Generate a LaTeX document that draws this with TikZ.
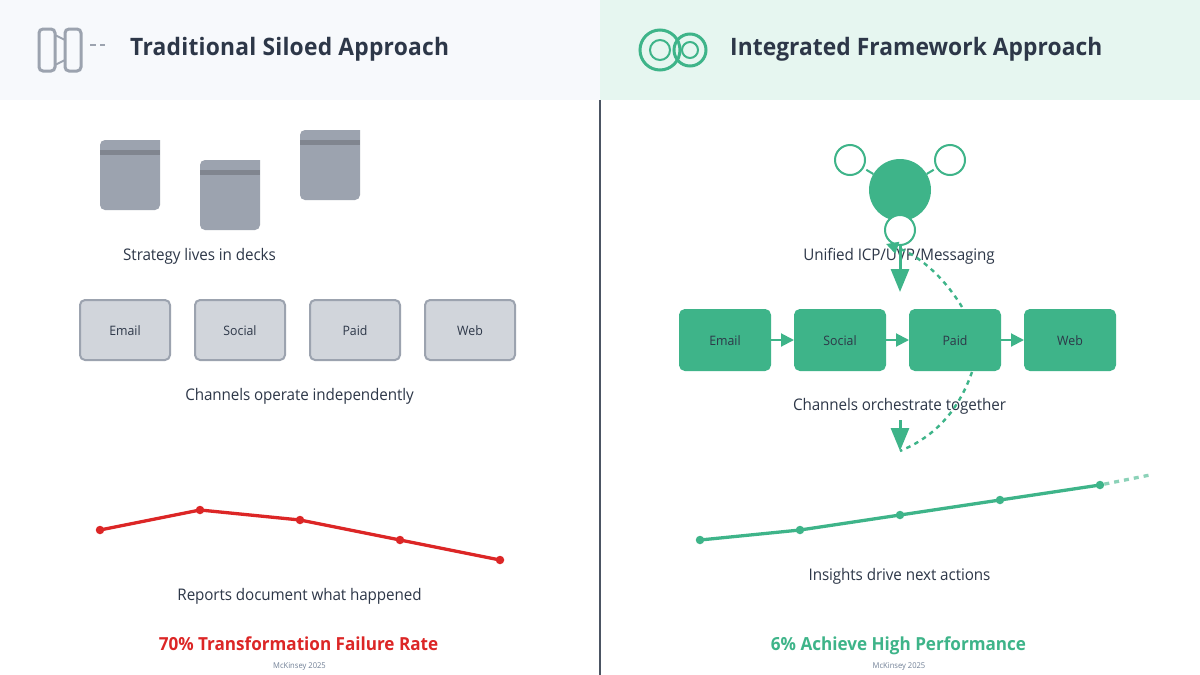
\documentclass[tikz,border=0pt]{standalone}
\usepackage{fontspec}
\setmainfont[FakeStretch=0.95]{Open Sans}
\usetikzlibrary{arrows.meta}
\definecolor{ink}{HTML}{2D3748}
\definecolor{mint}{HTML}{3EB489}
\definecolor{slate}{HTML}{9CA3AF}
\definecolor{band}{HTML}{80858F}
\definecolor{siloed}{HTML}{D1D5DB}
\definecolor{alarm}{HTML}{DC2626}
\definecolor{credit}{HTML}{718096}
\definecolor{headleft}{HTML}{F7F9FC}
\definecolor{headright}{HTML}{E6F6F0}

\begin{document}
\begin{tikzpicture}[x=1pt,y=-1pt,
  title/.style={text=ink,font=\fontsize{24}{28}\selectfont\bfseries\addfontfeature{LetterSpace=#1},anchor=base west,inner sep=0pt},
  caption/.style={text=ink,font=\fontsize{16}{20}\selectfont\addfontfeature{LetterSpace=-0.6},anchor=base,inner sep=0pt},
  verdict/.style={font=\fontsize{18}{22}\selectfont\bfseries,anchor=base,inner sep=0pt},
  credit/.style={text=credit,font=\fontsize{8}{10}\selectfont,anchor=base,inner sep=0pt},
  channel/.style={rectangle,rounded corners=5pt,minimum width=90pt,minimum height=60pt,
    inner sep=0pt,text height=11pt,text depth=0pt,text=ink,font=\fontsize{13}{18}\selectfont},
  silo/.style={channel,draw=slate,line width=2pt,fill=siloed},
  unit/.style={channel,draw=mint,line width=2pt,fill=mint},
  sat/.style={circle,draw=mint,line width=2pt,fill=white,minimum size=30pt,inner sep=0pt},
  dot/.style={circle,minimum size=8.5pt,inner sep=0pt},
  flow/.style={color=mint,line width=2pt,-{Triangle[length=13pt,width=13pt]}},
  bigflow/.style={color=mint,line width=3pt,-{Triangle[length=23pt,width=18pt]}},
  loopback/.style={color=mint,line width=2.4pt,dash pattern=on 4.5pt off 4.5pt}]

\useasboundingbox (0,0) rectangle (1200,675);
\fill[color=white] (0,0) rectangle (1200,675);
\fill[color=headleft] (0,0) rectangle (600,100);
\fill[color=headright] (600,0) rectangle (1200,100);
\draw[color=ink!85!white,line width=2pt] (600,100) -- (600,675);

% left header icon
\draw[slate,line width=3pt,rounded corners=4pt] (39,29) rectangle (55,71);
\draw[slate,line width=3pt,rounded corners=4pt] (65,29) rectangle (81,71);
\draw[slate,line width=2pt] (55,35) -- (65,40) (55,65) -- (65,60);
\draw[slate,line width=1.5pt] (90,45) -- (96,45) (100,45) -- (105,45);
\node[title=1] (T_left) at (130,55) {Traditional Siloed Approach};

% right header icon
\draw[mint,line width=3pt] (660,50) circle (20);
\draw[mint,line width=2pt] (660,50) circle (10);
\draw[mint,line width=3pt] (690,50) circle (16);
\draw[mint,line width=2pt] (690,50) circle (8);
\node[title=0.2] (T_right) at (730,55) {Integrated Framework Approach};

% decks
\foreach \x/\y in {100/140,200/160,300/130} {
  \fill[slate,shift={(\x,\y)}] (60,0) [rounded corners=5pt] -- (60,70) -- (0,70) -- (0,0) [sharp corners] -- cycle;
  \fill[band,shift={(\x,\y)}] (0,10) rectangle (60,15);
}
\node[caption] (C_decks) at (199.5,260) {Strategy lives in decks};

\node[silo] (S_email) at (125,330) {Email};
\node[silo] (S_social) at (240,330) {Social};
\node[silo] (S_paid) at (355,330) {Paid};
\node[silo] (S_web) at (470,330) {Web};
\node[caption] (C_indep) at (299.5,400) {Channels operate independently};

\foreach \n/\x/\y in {a/100/530,b/200/510,c/300/520,d/400/540,e/500/560}
  \node[dot,fill=alarm] (R_\n) at (\x,\y) {};
\draw[alarm,line width=3.3pt] (R_a.center) -- (R_b.center) -- (R_c.center) -- (R_d.center) -- (R_e.center);
\node[caption] (C_reports) at (299.5,600) {Reports document what happened};

\node[verdict,text=alarm] (V_left) at (298.5,650) {70\% Transformation Failure Rate};
\node[credit] (M_left) at (299.5,668) {McKinsey 2025};

% unified hub
\node[circle,fill=mint,minimum size=62pt,inner sep=0pt] (hub) at (900,190) {};
\node[sat] (sat_l) at (850,160) {};
\node[sat] (sat_r) at (950,160) {};
\node[sat] (sat_b) at (900,230) {};
\draw[mint,line width=2pt,shorten >=3pt] (hub) -- (sat_l);
\draw[mint,line width=2pt,shorten >=3pt] (hub) -- (sat_r);
\node[caption] (C_unified) at (899,260) {Unified ICP/UVP/Messaging};

\node[unit] (G_email) at (725,340) {Email};
\node[unit] (G_social) at (840,340) {Social};
\node[unit] (G_paid) at (955,340) {Paid};
\node[unit] (G_web) at (1070,340) {Web};

\path[flow]
  (G_email) edge (G_social)
  (G_social) edge (G_paid)
  (G_paid) edge (G_web)
;
\node[caption] (C_orch) at (899.5,410) {Channels orchestrate together};

\coordinate (top_tip) at (900,292);
\coordinate (low_start) at (900,420);
\coordinate (low_tip) at (900,451);
\coordinate (back_tip) at (886,244);
\draw[bigflow] (sat_b.south) -- (top_tip);
\draw[bigflow] (low_start) -- (low_tip);
\draw[loopback] (972,372) .. controls (958,412) and (934,437) .. (low_tip);
\draw[loopback,-{Triangle[length=12pt,width=12pt]}] (962,307) .. controls (942,274) and (916,254) .. (back_tip);

\foreach \n/\x/\y in {a/700/540,b/800/530,c/900/515,d/1000/500,e/1100/485}
  \node[dot,fill=mint] (P_\n) at (\x,\y) {};
\draw[mint,line width=3.3pt] (P_a.center) -- (P_b.center) -- (P_c.center) -- (P_d.center) -- (P_e.center);
\coordinate (P_next) at (1150,475);
\draw[mint,line width=3.3pt,opacity=.6,dash pattern=on 5pt off 5pt] (P_e) -- (P_next);
\node[caption] (C_insight) at (899.5,580) {Insights drive next actions};

\node[verdict,text=mint] (V_right) at (898.5,650) {6\% Achieve High Performance};
\node[credit] (M_right) at (899,668) {McKinsey 2025};
\end{tikzpicture}
\end{document}
